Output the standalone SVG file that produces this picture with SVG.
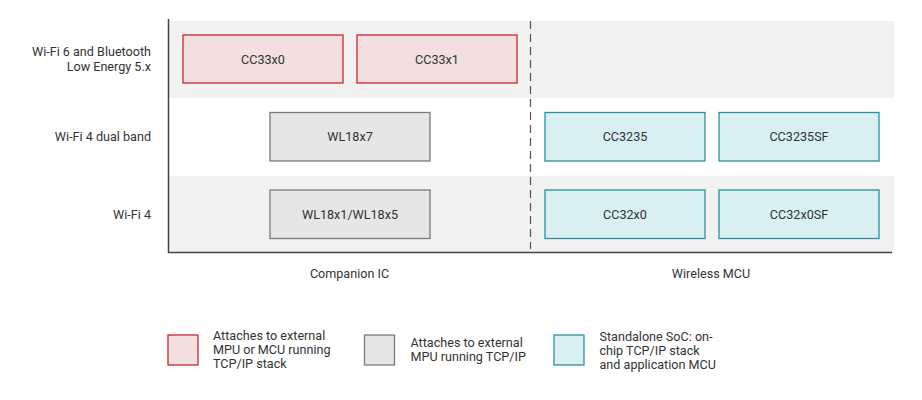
<svg xmlns="http://www.w3.org/2000/svg" width="922" height="400" viewBox="0 0 922 400">
<style>
text{font-family:Roboto,"Liberation Sans",sans-serif;font-size:12.6px;fill:#333}
.band{fill:#f1f1f1}
.red{fill:#f4dfe0;stroke:#d0262b;stroke-width:1.3}
.gray{fill:#e6e6e6;stroke:#7a7a7a;stroke-width:1.3}
.teal{fill:#d9f0f2;stroke:#2d8f9c;stroke-width:1.3}
.mid{text-anchor:middle}
.end{text-anchor:end}
</style>
<rect width="922" height="400" fill="#fff"/>
<g id="bands">
<rect class="band" x="169" y="21" width="725" height="77"/>
<rect class="band" x="169" y="176" width="725" height="77"/>
</g>
<g id="row-labels">
<text class="end" x="151" y="55.5">Wi-Fi 6 and Bluetooth</text>
<text class="end" x="151" y="71">Low Energy 5.x</text>
<text class="end" x="151" y="141">Wi-Fi 4 dual band</text>
<text class="end" x="151" y="218.5">Wi-Fi 4</text>
</g>
<g id="connectors">
<path d="M168.5 19V252.5H892" fill="none" stroke="#444" stroke-width="1.5"/>
<line x1="530.5" y1="21" x2="530.5" y2="249" stroke="#555" stroke-width="1.2" stroke-dasharray="8,5"/>
</g>
<g id="node-cc33x0"><rect class="red" x="183" y="35" width="160" height="48"/><text class="mid" x="263" y="63.5">CC33x0</text></g>
<g id="node-cc33x1"><rect class="red" x="357" y="35" width="160" height="48"/><text class="mid" x="437" y="63.5">CC33x1</text></g>
<g id="node-wl18x7"><rect class="gray" x="270" y="112.5" width="160" height="48.5"/><text class="mid" x="350" y="141">WL18x7</text></g>
<g id="node-wl18x1"><rect class="gray" x="270" y="190" width="160" height="48.5"/><text class="mid" x="350" y="218.5">WL18x1/WL18x5</text></g>
<g id="node-cc3235"><rect class="teal" x="545" y="112.5" width="160" height="48.5"/><text class="mid" x="625" y="141">CC3235</text></g>
<g id="node-cc3235sf"><rect class="teal" x="719" y="112.5" width="160" height="48.5"/><text class="mid" x="799" y="141">CC3235SF</text></g>
<g id="node-cc32x0"><rect class="teal" x="545" y="190" width="160" height="48.5"/><text class="mid" x="625" y="218.5">CC32x0</text></g>
<g id="node-cc32x0sf"><rect class="teal" x="719" y="190" width="160" height="48.5"/><text class="mid" x="799" y="218.5">CC32x0SF</text></g>
<g id="column-labels">
<text class="mid" x="349.5" y="277.5">Companion IC</text>
<text class="mid" x="711" y="277.5">Wireless MCU</text>
</g>
<g id="legend">
<rect class="red" x="168" y="335" width="30" height="30"/>
<text x="213" y="339.5">Attaches to external</text>
<text x="213" y="353.5">MPU or MCU running</text>
<text x="213" y="367.5">TCP/IP stack</text>
<rect class="gray" x="364.5" y="335" width="30" height="30"/>
<text x="410.5" y="346.5">Attaches to external</text>
<text x="410.5" y="360.5">MPU running TCP/IP</text>
<rect class="teal" x="554" y="335" width="30" height="30"/>
<text x="599.5" y="340.5">Standalone SoC: on-</text>
<text x="599.5" y="354.5">chip TCP/IP stack</text>
<text x="599.5" y="368.5">and application MCU</text>
</g>
</svg>
